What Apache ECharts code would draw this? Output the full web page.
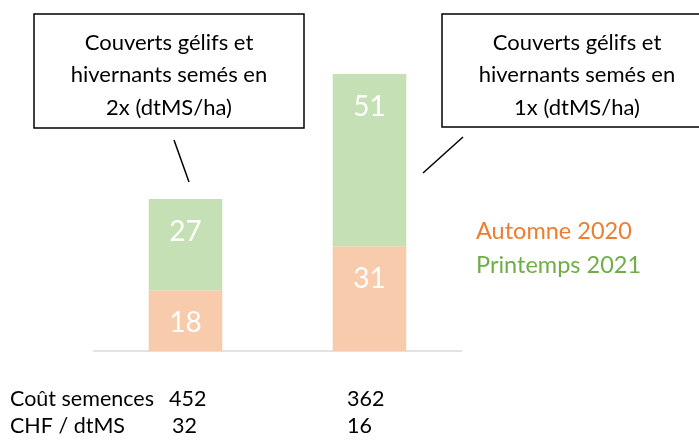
<!DOCTYPE html>
<html><head><meta charset="utf-8">
<script src="https://cdn.jsdelivr.net/npm/echarts@6/dist/echarts.min.js"></script>
<style>html,body{margin:0;padding:0;background:#fff}#c{width:699px;height:441px}</style>
</head><body><div id="c"></div>
<script>
const categories = ['2x', '1x'];
const seriesNames = ['Automne 2020', 'Printemps 2021'];
const autumn2020 = [18, 31];
const spring2021 = [27, 51];
const rowLabels = ['Coût semences', 'CHF / dtMS'];
const seedCost = [452, 362];
const chfPerDtMS = [32, 16];
const boxTexts = [
  'Couverts gélifs et\nhivernants semés en\n2x (dtMS/ha)',
  'Couverts gélifs et\nhivernants semés en\n1x (dtMS/ha)'
];

const FONT = 'Lato, "Open Sans", sans-serif';
const chart = echarts.init(document.getElementById('c'), null, {renderer: 'canvas'});
const barLabel = {show: true, position: 'insideTop', distance: 18, color: '#fff',
  fontFamily: FONT, fontSize: 28, lineHeight: 30};

chart.setOption({
  animation: false,
  backgroundColor: '#fff',
  grid: {left: 93.5, right: 237.5, top: 47, bottom: 90},
  legend: {
    orient: 'vertical', left: 466, top: 214, itemGap: 10,
    icon: 'none', itemWidth: 0, itemHeight: 0,
    textStyle: {fontFamily: FONT, fontSize: 23.5, padding: [0, 0, 0, 0]},
    data: [
      {name: seriesNames[0], textStyle: {color: '#ED7D31'}},
      {name: seriesNames[1], textStyle: {color: '#70AD47'}}
    ]
  },
  xAxis: {
    type: 'category', data: categories,
    axisLine: {lineStyle: {color: '#D9D9D9', width: 1.5}},
    axisTick: {show: false}, axisLabel: {show: false}
  },
  yAxis: {type: 'value', min: 0, max: 90, show: false, splitLine: {show: false}},
  series: [
    {name: seriesNames[0], type: 'bar', stack: 's', data: autumn2020, barWidth: '40%',
     itemStyle: {color: '#F8CBAD'}, label: barLabel},
    {name: seriesNames[1], type: 'bar', stack: 's', data: spring2021, barWidth: '40%',
     itemStyle: {color: '#C5E0B4'}, label: barLabel}
  ]
});

const gx = categories.map(c => chart.convertToPixel({xAxisIndex: 0}, c));
const graphics = [];
const boxes = [{x: 34, y: 14, w: 270, h: 114}, {x: 442, y: 14, w: 270, h: 113}];
boxes.forEach((b, i) => {
  graphics.push({type: 'rect', shape: {x: b.x, y: b.y, width: b.w, height: b.h},
    style: {fill: '#fff', stroke: '#000', lineWidth: 1.5}, z: 10});
  graphics.push({type: 'text', x: b.x + b.w / 2, y: 75, z: 11,
    style: {text: boxTexts[i], fontFamily: FONT, fontSize: 22, fill: '#000',
      align: 'center', verticalAlign: 'middle', lineHeight: 32.5}});
});
graphics.push({type: 'line', shape: {x1: 174, y1: 140, x2: 189, y2: 182}, style: {stroke: '#000', lineWidth: 1.5}, z: 10});
graphics.push({type: 'line', shape: {x1: 463, y1: 137, x2: 423, y2: 173}, style: {stroke: '#000', lineWidth: 1.5}, z: 10});

const rows = [seedCost, chfPerDtMS];
const rowY = [399, 426];
const offsets = [[-16.5, -22.5], [-13.5, -22.5]];
rows.forEach((vals, r) => {
  graphics.push({type: 'text', x: 10, y: rowY[r],
    style: {text: rowLabels[r], fontFamily: FONT, fontSize: 21.5, fill: '#000', align: 'left', verticalAlign: 'middle'}});
  vals.forEach((v, i) => {
    graphics.push({type: 'text', x: gx[i] + offsets[r][i], y: rowY[r],
      style: {text: String(v), fontFamily: FONT, fontSize: 21.5, fill: '#000', align: 'left', verticalAlign: 'middle'}});
  });
});
chart.setOption({graphic: graphics});
</script>
</body></html>
